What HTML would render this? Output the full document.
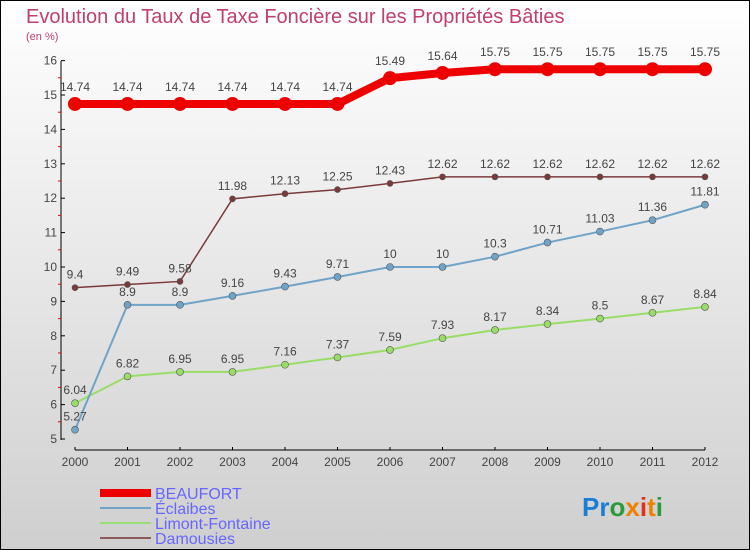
<!DOCTYPE html>
<html><head><meta charset="utf-8"><style>
body{margin:0}
#c{width:750px;height:550px;position:relative;box-sizing:border-box;border:1px solid #000;background:linear-gradient(#ffffff,#cfcfcf);font-family:"Liberation Sans",sans-serif;overflow:hidden}
</style></head><body>
<div id="c">
<svg id="s" width="750" height="550" style="position:absolute;left:-1px;top:-1px">
<text x="26" y="23" font-size="20" fill="#c0406a">Evolution du Taux de Taxe Foncière sur les Propriétés Bâties</text>
<text x="26" y="40" font-size="11" fill="#c0406a">(en %)</text>
<g id="axes"></g><g id="series"></g>
<g>
<rect x="100" y="489" width="51" height="8" fill="#ee0000"/>
<text x="155" y="499" font-size="16" fill="#6666ff">BEAUFORT</text>
<rect x="100" y="507" width="51" height="2" fill="#6fa3c8"/>
<text x="155" y="514" font-size="16" fill="#6666ff">Éclaibes</text>
<rect x="100" y="522" width="51" height="2" fill="#99dd77"/>
<text x="155" y="529" font-size="16" fill="#6666ff">Limont-Fontaine</text>
<rect x="100" y="537" width="51" height="2" fill="#8b5a5a"/>
<text x="155" y="544" font-size="16" fill="#6666ff">Damousies</text>
</g>
<g font-size="26" font-weight="bold">
<text x="582" y="516"><tspan fill="#1a7fd4">Pr</tspan><tspan fill="#2a9a3a">o</tspan><tspan fill="#f08000">x</tspan><tspan fill="#e03020">i</tspan><tspan fill="#f08000">t</tspan><tspan fill="#2a9a3a">i</tspan></text>
</g>
</svg>
</div>
<script>
const years=[2000,2001,2002,2003,2004,2005,2006,2007,2008,2009,2010,2011,2012];
const yTicks=[5,6,7,8,9,10,11,12,13,14,15,16];
const beaufort=[14.74,14.74,14.74,14.74,14.74,14.74,15.49,15.64,15.75,15.75,15.75,15.75,15.75];
const eclaibes=[5.27,8.9,8.9,9.16,9.43,9.71,10,10,10.3,10.71,11.03,11.36,11.81];
const limont=[6.04,6.82,6.95,6.95,7.16,7.37,7.59,7.93,8.17,8.34,8.5,8.67,8.84];
const damousies=[9.4,9.49,9.58,11.98,12.13,12.25,12.43,12.62,12.62,12.62,12.62,12.62,12.62];
const NS="http://www.w3.org/2000/svg";
const x=i=>75+i*52.5, y=v=>439-(v-5)*34.4;
function mk(t,a,p){const e=document.createElementNS(NS,t);for(const k in a)e.setAttribute(k,a[k]);p.appendChild(e);return e;}
const ax=document.getElementById('axes');
let e=mk('line',{x1:61,y1:61,x2:61,y2:440,stroke:'#000'},ax);


e=mk('line',{x1:75,y1:450,x2:705,y2:450,stroke:'#000'},ax);


yTicks.forEach(v=>{mk('line',{x1:61,y1:y(v),x2:65,y2:y(v),stroke:'#000'},ax);
 if(v<16)mk('line',{x1:58,y1:y(v+0.5),x2:61,y2:y(v+0.5),stroke:'#e00'},ax);
 const t=mk('text',{x:57,y:y(v)+4,'font-size':12,fill:'#444','text-anchor':'end'},ax);t.textContent=v;
 
 });
years.forEach((yr,i)=>{mk('line',{x1:x(i),y1:447,x2:x(i),y2:450,stroke:'#000'},ax);
 const t=mk('text',{x:x(i),y:466,'font-size':12,fill:'#444','text-anchor':'middle'},ax);t.textContent=yr;
 
 });
const sg=document.getElementById('series');
function series(d,name,col,w,r,lab){
 const p=mk('polyline',{points:d.map((v,i)=>x(i)+','+y(v)).join(' '),fill:'none',stroke:col,'stroke-width':w},sg);
 
 
 d.forEach((v,i)=>{const c=mk('circle',{cx:x(i),cy:y(v),r:r,fill:col,stroke:r>5?'none':'#555','stroke-width':0.6},sg);
  
  
  const t=mk('text',{x:x(i),y:y(v)-lab,'font-size':12,fill:'#444','text-anchor':'middle'},sg);t.textContent=v;
  
  });
}
series(limont,'limont-fontaine','#99dd66',2,3.5,9);
series(eclaibes,'eclaibes','#6fa3c8',2,3.5,9);
series(damousies,'damousies','#7a3a3a',1.5,3,9);
series(beaufort,'beaufort','#ee0000',8,7,13);
</script>
</body></html>
